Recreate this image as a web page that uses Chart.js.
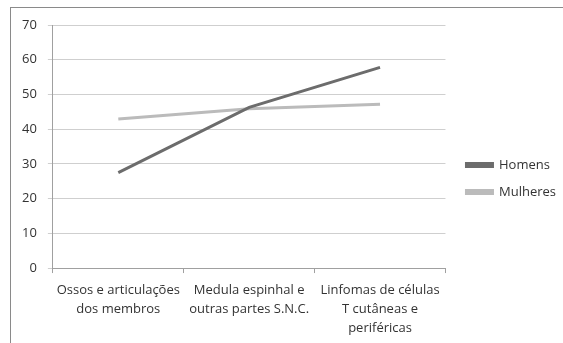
<!DOCTYPE html>
<html>
<head>
<meta charset="utf-8">
<script src="https://cdn.jsdelivr.net/npm/chart.js@4/dist/chart.umd.min.js"></script>
<style>
  html, body { margin: 0; padding: 0; background: #fff; }
  canvas { display: block; }
</style>
</head>
<body>
<canvas id="c" width="563" height="343"></canvas>
<script>
const categories = [
  ["Ossos e articulações", "dos membros"],
  ["Medula espinhal e", "outras partes S.N.C."],
  ["Linfomas de células", "T cutâneas e", "periféricas"]
];
const homens = [27.5, 46.3, 57.8];
const mulheres = [42.9, 45.9, 47.2];
const seriesNames = ["Homens", "Mulheres"];

const FONT = "'Open Sans', 'Liberation Sans', sans-serif";

// Thin frame around the chart (top and left edges are inside the canvas)
const framePlugin = {
  id: "frame",
  afterLayout(chart) {
    // leave a wider gap between the plot and the legend, and lift it slightly
    const lg = chart.legend;
    lg.left += 7; lg.right += 7;
    lg.top -= 7; lg.bottom -= 7;
  },
  beforeDraw(chart) {
    const ctx = chart.ctx;
    ctx.save();
    ctx.fillStyle = "#fff";
    ctx.fillRect(0, 0, chart.width, chart.height);
    ctx.fillStyle = "#8a8a8a";
    ctx.fillRect(10, 7, 1, chart.height - 7);
    ctx.fillRect(10, 7, chart.width - 10, 1);
    ctx.restore();
  }
};

new Chart(document.getElementById("c"), {
  type: "line",
  data: {
    labels: categories,
    datasets: [
      { label: seriesNames[0], data: homens, borderColor: "#6c6c6c", backgroundColor: "#6c6c6c",
        borderWidth: 3, pointRadius: 0, tension: 0 },
      { label: seriesNames[1], data: mulheres, borderColor: "#bbbbbb", backgroundColor: "#bbbbbb",
        borderWidth: 3, pointRadius: 0, tension: 0 }
    ]
  },
  plugins: [framePlugin],
  options: {
    responsive: false,
    animation: false,
    layout: { padding: { left: 11, top: 25, right: 4, bottom: -3 } },
    plugins: {
      tooltip: { enabled: false },
      legend: {
        position: "right",
        align: "center",
        labels: {
          boxWidth: 26,
          boxHeight: 3,
          padding: 14,
          color: "#333",
          font: { family: FONT, size: 13 }
        }
      }
    },
    scales: {
      x: {
        offset: true,
        grid: { offset: true, drawOnChartArea: false, drawTicks: true, tickLength: 5, color: "#a0a0a0" },
        border: { color: "#a0a0a0" },
        ticks: { color: "#333", font: { family: FONT, size: 13, lineHeight: 1.46 }, maxRotation: 0, autoSkip: false, padding: 8 }
      },
      y: {
        min: 0,
        max: 70,
        ticks: { stepSize: 10, color: "#333", font: { family: FONT, size: 13 }, padding: 11 },
        grid: { color: "#cfcfcf", tickLength: 5, drawTicks: true },
        border: { color: "#a0a0a0" }
      }
    }
  }
});
</script>
</body>
</html>
